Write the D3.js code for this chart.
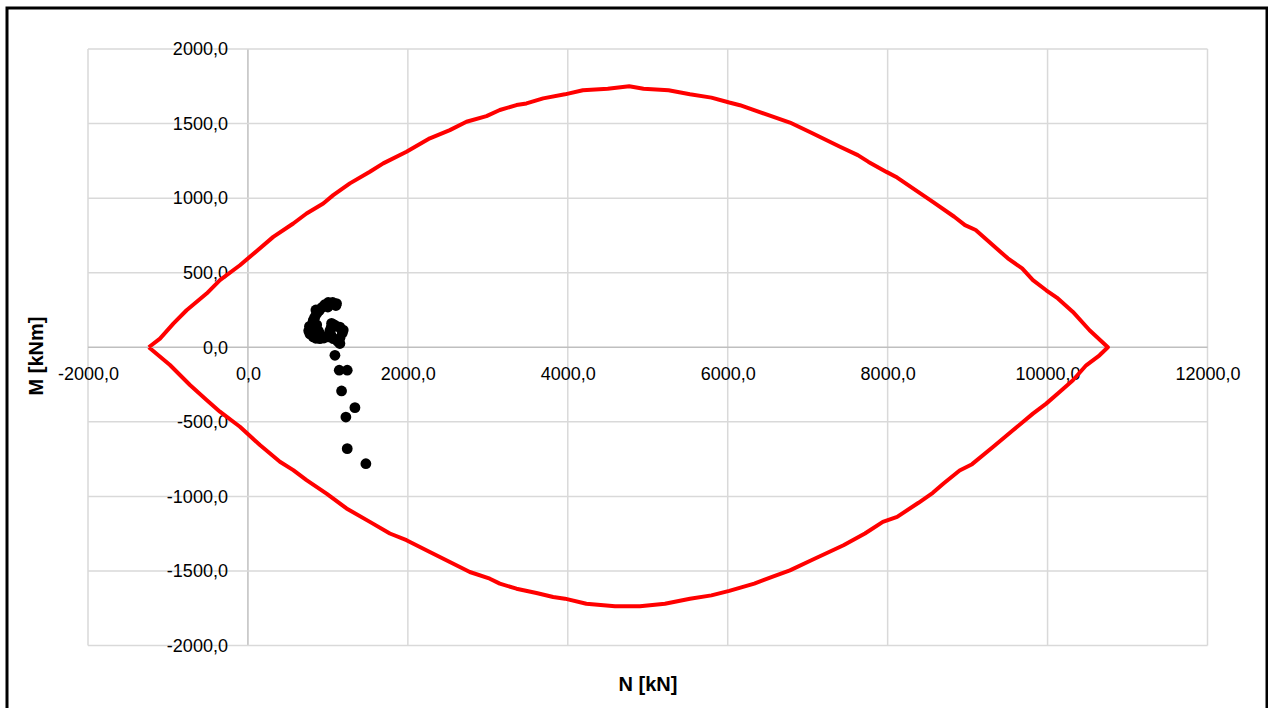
<!DOCTYPE html>
<html>
<head>
<meta charset="utf-8">
<script src="https://cdn.jsdelivr.net/npm/d3@7"></script>
<style>
  html, body { margin: 0; padding: 0; background: #fff; }
  svg { display: block; }
  .tick text { font-family: "Liberation Sans", Arial, sans-serif; font-size: 18px; fill: #000; }
</style>
</head>
<body>
<svg id="chart" width="1268" height="708"></svg>
<script>
// ---- data ----
const xTicks = [-2000, 0, 2000, 4000, 6000, 8000, 10000, 12000];
const yTicks = [-2000, -1500, -1000, -500, 0, 500, 1000, 1500, 2000];

// interaction envelope, upper branch (N [kN], M [kNm]) from left tip to right tip
const upperBranch = [
  [-1240, 0], [-1100, 58], [-930, 160], [-767, 248], [-517, 360], [-350, 450], [-100, 550],
  [317, 740], [567, 830], [733, 897], [942, 964], [1067, 1020], [1275, 1099],
  [1525, 1177], [1692, 1233], [1983, 1311], [2275, 1401], [2525, 1456], [2733, 1512],
  [2983, 1550], [3150, 1591], [3358, 1624], [3483, 1635], [3692, 1669], [3964, 1696],
  [4188, 1723], [4500, 1734], [4768, 1750], [4947, 1734], [5260, 1723], [5528, 1696],
  [5796, 1674], [6019, 1641], [6153, 1623], [6510, 1556], [6778, 1507], [7046, 1438],
  [7404, 1344], [7627, 1288], [7761, 1243], [7985, 1176], [8119, 1138], [8565, 975],
  [8833, 875], [8967, 819], [9101, 786], [9503, 596], [9682, 529], [9817, 450],
  [9983, 382], [10129, 327], [10317, 237], [10525, 114], [10754, 0]
];
// lower branch (N, M) from right tip back to left tip
const lowerBranch = [
  [10754, 0], [10650, -54], [10483, -121], [10317, -221], [10150, -300], [9983, -378],
  [9817, -445], [9567, -557], [9317, -669], [9056, -784], [8900, -826], [8699, -914],
  [8565, -976], [8386, -1043], [8119, -1137], [7940, -1171], [7716, -1249], [7448, -1328],
  [7046, -1428], [6778, -1496], [6555, -1540], [6332, -1585], [6019, -1634], [5796, -1664],
  [5528, -1686], [5215, -1720], [4902, -1737], [4590, -1737], [4232, -1720], [3964, -1686],
  [3817, -1675], [3608, -1648], [3358, -1619], [3150, -1585], [3025, -1552], [2775, -1507],
  [2525, -1440], [2275, -1373], [1983, -1294], [1775, -1249], [1525, -1171], [1233, -1081],
  [983, -981], [733, -891], [567, -824], [400, -768], [150, -656], [-100, -533],
  [-350, -432], [-517, -354], [-725, -253], [-975, -119], [-1240, 0]
];

// load points (N [kN], M [kNm])
const loadN = [
  1108, 1060, 1004, 960, 921, 890, 858, 835, 817, 805, 796, 790, 800, 817, 850, 900, 950, 1004, 1040,
  1046, 1080, 1108, 1150, 1192, 1180, 1150, 1120, 1150, 1067, 1025, 1040,
  760, 775, 770, 860, 880, 900, 850, 1000, 1100,
  1088, 1142, 1242, 1171, 1338, 1225, 1242, 1475
];
const loadM = [
  293, 300, 300, 285, 265, 245, 225, 200, 180, 155, 130, 105, 85, 70, 60, 58, 62, 70, 80,
  160, 150, 140, 135, 115, 95, 60, 40, 25, 58, 110, 130,
  110, 90, 140, 150, 110, 90, 250, 270, 280,
  -54, -154, -154, -293, -405, -468, -680, -781
];

// ---- drawing ----
const svg = d3.select("#chart");
const x = d3.scaleLinear().domain([-2000, 12000]).range([88, 1207.5]);
const y = d3.scaleLinear().domain([-2000, 2000]).range([645.5, 49]);
const fmt = v => v.toFixed(1).replace(".", ",");

// outer chart border
svg.append("rect").attr("x", 7).attr("y", 8).attr("width", 1260).attr("height", 730)
  .attr("fill", "#fff").attr("stroke", "#000").attr("stroke-width", 3);

// grid
const grid = svg.append("g");
grid.selectAll("line.v").data(xTicks).join("line")
  .attr("x1", d => x(d)).attr("x2", d => x(d))
  .attr("y1", y(2000)).attr("y2", y(-2000))
  .attr("stroke", d => d === 0 ? "#bfbfbf" : "#d9d9d9").attr("stroke-width", 1.5);
grid.selectAll("line.h").data(yTicks).join("line")
  .attr("y1", d => y(d)).attr("y2", d => y(d))
  .attr("x1", x(-2000)).attr("x2", x(12000))
  .attr("stroke", d => d === 0 ? "#bfbfbf" : "#d9d9d9").attr("stroke-width", 1.5);

// axes (labels only)
const xAxis = svg.append("g").attr("transform", `translate(0,${y(0)})`)
  .call(d3.axisBottom(x).tickValues(xTicks).tickFormat(fmt).tickSize(0).tickPadding(20));
xAxis.select(".domain").remove();
const yAxis = svg.append("g").attr("transform", `translate(${x(0)},0)`)
  .call(d3.axisLeft(y).tickValues(yTicks).tickFormat(fmt).tickSize(0).tickPadding(20));
yAxis.select(".domain").remove();

// envelope
const envelope = upperBranch.concat(lowerBranch.slice(1));
svg.append("path").datum(envelope)
  .attr("d", d3.line().x(d => x(d[0])).y(d => y(d[1])))
  .attr("fill", "none").attr("stroke", "#ff0000").attr("stroke-width", 4)
  .attr("stroke-linejoin", "round");

// load points
svg.append("g").selectAll("circle").data(loadN.map((n, i) => [n, loadM[i]])).join("circle")
  .attr("cx", d => x(d[0])).attr("cy", d => y(d[1])).attr("r", 5.4).attr("fill", "#000");

// axis titles
svg.append("text").attr("x", 648).attr("y", 691).attr("text-anchor", "middle")
  .attr("font-family", "Liberation Sans, Arial, sans-serif").attr("font-size", 20)
  .attr("font-weight", "bold").text("N [kN]");
svg.append("text").attr("transform", "translate(43,356) rotate(-90)").attr("text-anchor", "middle")
  .attr("font-family", "Liberation Sans, Arial, sans-serif").attr("font-size", 20)
  .attr("font-weight", "bold").text("M [kNm]");
</script>
</body>
</html>
